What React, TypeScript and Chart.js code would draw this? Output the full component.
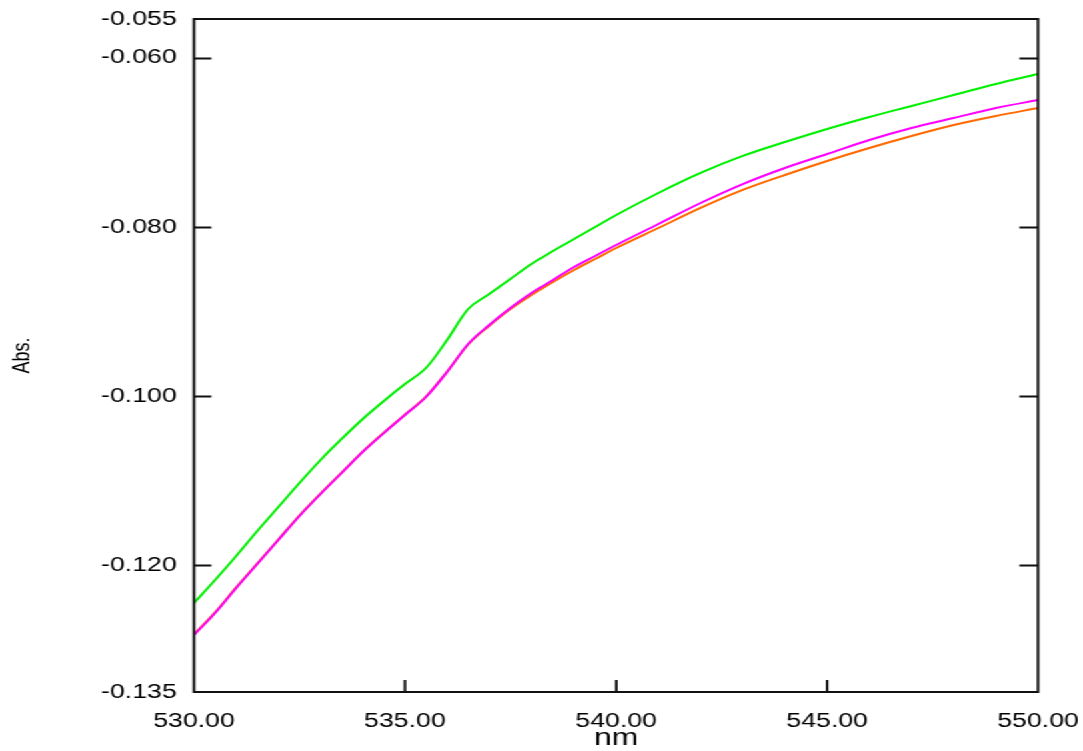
import React, { useEffect, useRef } from "react";
import { Chart, registerables } from "chart.js";

Chart.register(...registerables);

const wavelengths = [
  530, 530.5, 531, 531.5, 532, 532.5, 533, 533.5, 534, 534.5, 535, 535.5, 536, 536.5,
  537, 537.5, 538, 538.5, 539, 539.5, 540, 541, 542, 543, 544, 545, 546, 547, 548, 549, 550,
];

const greenAbs = [
  -0.12447, -0.12175, -0.11891, -0.11596, -0.11312, -0.11028, -0.10756, -0.10507, -0.10271,
  -0.10058, -0.09857, -0.09668, -0.09337, -0.0897, -0.08793, -0.08615, -0.08438, -0.08284,
  -0.08142, -0.08, -0.07858, -0.07598, -0.07361, -0.0716, -0.06995, -0.06841, -0.06699,
  -0.06569, -0.06439, -0.06309, -0.06191,
];

const magentaAbs = [
  -0.12826, -0.12565, -0.1227, -0.11986, -0.11702, -0.11418, -0.11158, -0.1091, -0.10661,
  -0.10437, -0.10224, -0.10011, -0.09715, -0.09384, -0.09159, -0.08958, -0.08781, -0.08627,
  -0.08473, -0.08343, -0.08213, -0.07965, -0.07716, -0.07492, -0.07302, -0.07137, -0.06971,
  -0.06829, -0.06711, -0.06593, -0.06498,
];

const orangeAbs = [
  -0.12818, -0.12558, -0.12263, -0.1198, -0.11696, -0.11412, -0.11153, -0.10905, -0.10656,
  -0.10432, -0.10219, -0.10006, -0.09711, -0.0939, -0.09168, -0.0897, -0.08804, -0.08651,
  -0.08509, -0.08379, -0.08249, -0.08012, -0.07775, -0.07562, -0.07385, -0.07219, -0.07066,
  -0.06924, -0.06794, -0.06687, -0.06593,
];

const xTickValues = [530, 535, 540, 545, 550];
const yTickValues = [-0.135, -0.12, -0.1, -0.08, -0.06, -0.0554];
const yInnerTicks = [-0.12, -0.1, -0.08, -0.06];
const xInnerTicks = [535, 540, 545];

const BASE_W = 812;
const BASE_H = 751;
const STRETCH = 1083 / 812;
const FONT = "'Liberation Sans', Arial, Helvetica, sans-serif";

const framePlugin = {
  id: "frame",
  afterDraw(chart: any) {
    const { ctx, chartArea, scales } = chart;
    const { left, right, top, bottom } = chartArea;
    ctx.save();
    ctx.strokeStyle = "#111";
    ctx.lineWidth = 2;
    ctx.strokeRect(left, top, right - left, bottom - top);
    ctx.beginPath();
    for (const v of yInnerTicks) {
      const py = Math.round(scales.y.getPixelForValue(v)) + 0.5;
      ctx.moveTo(left, py);
      ctx.lineTo(left + 13, py);
      ctx.moveTo(right, py);
      ctx.lineTo(right - 14, py);
    }
    for (const v of xInnerTicks) {
      const px = scales.x.getPixelForValue(v);
      ctx.moveTo(px, bottom);
      ctx.lineTo(px, bottom - 12);
    }
    ctx.stroke();
    ctx.restore();
  },
};

export default function App() {
  const canvasRef = useRef<HTMLCanvasElement | null>(null);

  useEffect(() => {
    const canvas = canvasRef.current;
    if (!canvas) return;
    const toPts = (vals: number[]) => wavelengths.map((x, i) => ({ x, y: vals[i] }));
    const lineStyle = {
      borderWidth: 2,
      pointRadius: 0,
      cubicInterpolationMode: "monotone" as const,
    };
    const chart = new Chart(canvas, {
      type: "line",
      data: {
        datasets: [
          { label: "Sample 3", data: toPts(magentaAbs), borderColor: "#ff00ff", order: 0, ...lineStyle },
          { label: "Sample 2", data: toPts(orangeAbs), borderColor: "#ff6a00", order: 1, ...lineStyle },
          { label: "Sample 1", data: toPts(greenAbs), borderColor: "#00f000", order: 2, ...lineStyle },
        ],
      },
      options: {
        animation: false,
        responsive: false,
        devicePixelRatio: 1,
        layout: { padding: { left: 0, right: BASE_W - 778.3, top: 19, bottom: 0 } },
        plugins: { legend: { display: false }, tooltip: { enabled: false } },
        scales: {
          x: {
            type: "linear",
            min: 530,
            max: 550,
            grid: { display: false },
            border: { display: false },
            afterBuildTicks: (scale: any) => {
              scale.ticks = xTickValues.map((value) => ({ value }));
            },
            afterFit: (scale: any) => {
              scale.height = 59;
              scale.paddingLeft = 0;
              scale.paddingRight = 0;
            },
            ticks: {
              autoSkip: false,
              maxRotation: 0,
              padding: 9,
              color: "#000",
              font: { family: FONT, size: 20 },
              callback: (v: any) => Number(v).toFixed(2),
            },
            title: {
              display: true,
              text: "nm",
              color: "#000",
              font: { family: FONT, size: 24 },
              padding: { top: 0, bottom: -2 },
            },
          },
          y: {
            type: "linear",
            min: -0.135,
            max: -0.0554,
            grid: { display: false },
            border: { display: false },
            afterBuildTicks: (scale: any) => {
              scale.ticks = yTickValues.map((value) => ({ value }));
            },
            afterFit: (scale: any) => {
              scale.width = 145.5;
              scale.paddingTop = 0;
              scale.paddingBottom = 0;
            },
            ticks: {
              autoSkip: false,
              padding: 5,
              color: "#000",
              font: { family: FONT, size: 20 },
              callback: (v: any) => Number(v).toFixed(3),
            },
            title: {
              display: true,
              text: "Abs.",
              color: "#000",
              font: { family: FONT, size: 18 },
              padding: { top: 6, bottom: 0 },
            },
          },
        },
      },
      plugins: [framePlugin],
    });
    return () => chart.destroy();
  }, []);

  return (
    <div
      style={{
        position: "absolute",
        left: 0,
        top: 0,
        width: BASE_W,
        height: BASE_H,
        transform: `scaleX(${STRETCH})`,
        transformOrigin: "0 0",
        background: "#fff",
      }}
    >
      <canvas ref={canvasRef} width={BASE_W} height={BASE_H} style={{ display: "block" }} />
    </div>
  );
}
